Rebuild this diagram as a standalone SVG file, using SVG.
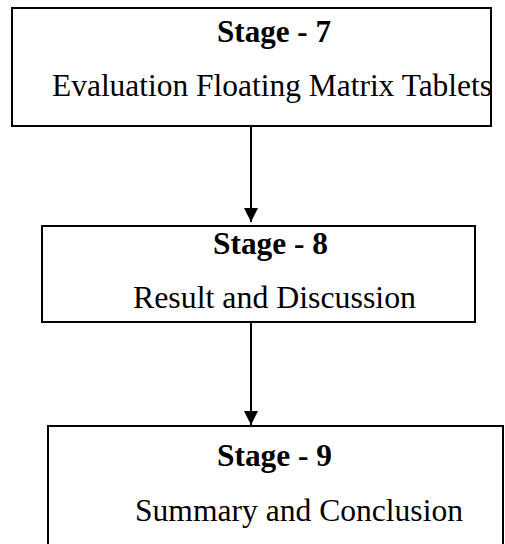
<svg xmlns="http://www.w3.org/2000/svg" width="505" height="544" viewBox="0 0 505 544">
<style>
.box{fill:#fff;stroke:#000;stroke-width:2}
.t{font-family:"Liberation Serif","Times New Roman",serif;font-size:30.5px;fill:#000}
.b{font-weight:bold}
.c{stroke:#000;stroke-width:2;fill:none}
</style>
<defs>
<marker id="ah" markerWidth="14" markerHeight="16" refX="14" refY="7" orient="auto" markerUnits="userSpaceOnUse">
<path d="M0,0 L14,7 L0,14 Z" fill="#000"/>
</marker>
</defs>
<g id="stage7">
<rect class="box" x="12" y="8" width="479" height="118"/>
<text class="t b" x="217" y="42" textLength="114" lengthAdjust="spacingAndGlyphs">Stage - 7</text>
<text class="t" x="52" y="96" textLength="440" lengthAdjust="spacingAndGlyphs">Evaluation Floating Matrix Tablets</text>
</g>
<g id="stage8">
<rect class="box" x="42" y="226" width="433" height="96"/>
<text class="t b" x="213" y="254" textLength="115" lengthAdjust="spacingAndGlyphs">Stage - 8</text>
<text class="t" x="133" y="308" textLength="283" lengthAdjust="spacingAndGlyphs">Result and Discussion</text>
</g>
<g id="stage9">
<rect class="box" x="48" y="426" width="455" height="130"/>
<text class="t b" x="217" y="466" textLength="115" lengthAdjust="spacingAndGlyphs">Stage - 9</text>
<text class="t" x="135" y="521" textLength="328" lengthAdjust="spacingAndGlyphs">Summary and Conclusion</text>
</g>
<g id="connectors">
<line class="c" x1="251" y1="126" x2="251" y2="222" marker-end="url(#ah)"/>
<line class="c" x1="251" y1="322" x2="251" y2="425" marker-end="url(#ah)"/>
</g>
</svg>
